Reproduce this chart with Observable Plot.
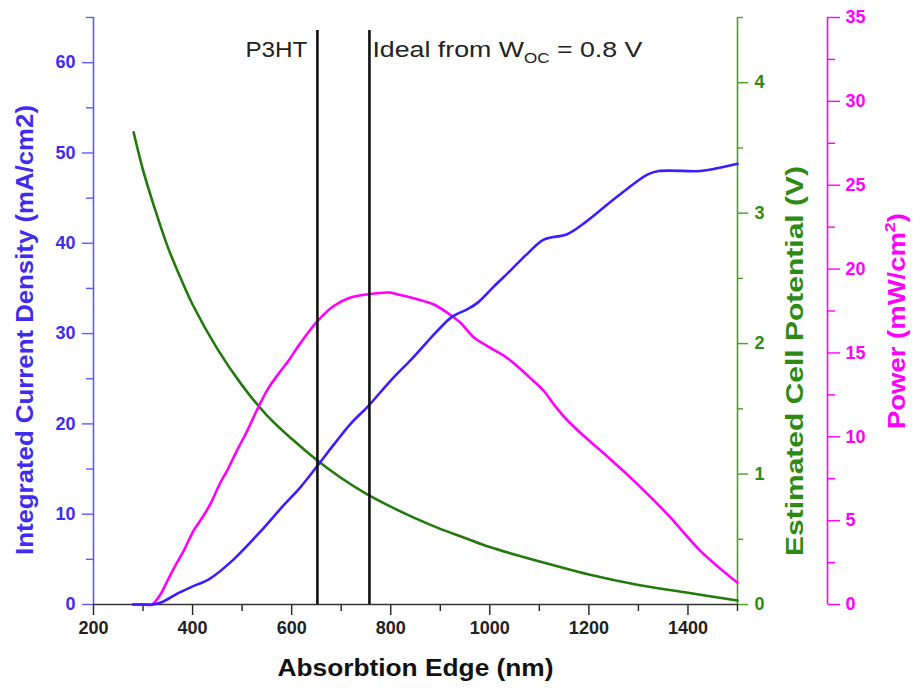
<!DOCTYPE html>
<html><head><meta charset="utf-8">
<script src="https://cdn.jsdelivr.net/npm/d3@7"></script>
<script src="https://cdn.jsdelivr.net/npm/@observablehq/plot@0.6"></script>
<style>body{margin:0;background:#fff}#chart{position:absolute;left:0;top:0}</style>
</head><body><div id="chart"></div>
<script>
// Integrated current density (mA/cm2) vs absorption edge (nm)
const currentNm  = [280,300,320,340,369,396,436,483,534,584,618,654,685,719,755,800,846,894,925,955,975,1008,1042,1075,1109,1156,1190,1258,1318,1341,1425,1459,1500];
const currentVal = [0,0,0,0.3,1.2,1.9,2.9,5.0,7.9,11.0,13.0,15.5,17.7,20.0,22.0,24.8,27.4,30.3,31.9,32.7,33.4,35.2,37.0,38.8,40.4,41.0,42.2,45.2,47.6,48.0,48.0,48.3,48.8];
// Estimated cell potential (V)
const voltNm  = [281,300,325,350,375,400,450,500,550,600,650,700,750,800,850,900,950,1000,1100,1200,1300,1400,1500];
const voltVal = [3.62,3.33,3.02,2.74,2.51,2.30,1.96,1.68,1.45,1.27,1.11,0.97,0.85,0.75,0.66,0.58,0.51,0.44,0.33,0.23,0.15,0.09,0.03];
// Power (mW/cm2)
const powerNm  = [280,300,318,335,349,365,382,402,420,436,455,470,490,511,530,551,572,595,618,652,685,719,755,796,813,854,886,914,941,965,995,1035,1082,1110,1130,1156,1203,1223,1290,1358,1425,1500];
const powerVal = [0,0,0,0.6,1.4,2.3,3.2,4.4,5.2,6.0,7.2,8.0,9.2,10.4,11.6,12.8,13.7,14.6,15.6,16.9,17.8,18.3,18.5,18.6,18.5,18.2,17.9,17.4,16.8,16.0,15.4,14.7,13.5,12.7,11.9,11.0,9.7,9.2,7.4,5.4,3.2,1.3];
// Marker lines
const markerNm = [652, 757];
const markerLabels = ["P3HT", "Ideal from W"];
// Ticks
const xMajor = [200,400,600,800,1000,1200,1400];
const xMinor = [300,500,700,900,1100,1300,1500];
const leftMajor = [0,10,20,30,40,50,60];
const leftMinor = [5,15,25,35,45,55,65];
const voltMajor = [0,1,2,3,4];
const voltMinor = [0.5,1.5,2.5,3.5,4.5];
const powerMajor = [0,5,10,15,20,25,30,35];
const powerMinor = [2.5,7.5,12.5,17.5,22.5,27.5,32.5];
const Y_MAX = 65, V_MAX = 4.5, P_MAX = 35;

const vToY = v => v * Y_MAX / V_MAX;
const pToY = p => p * Y_MAX / P_MAX;
const current = currentNm.map((x, i) => ({x, y: currentVal[i]}));
const volt = voltNm.map((x, i) => ({x, y: vToY(voltVal[i])}));
const power = powerNm.map((x, i) => ({x, y: pToY(powerVal[i])}));

const BLUE = "#3a1eff", BLUE_AX = "#5b5bff", BLUE_TX = "#3f2cf0";
const GREEN = "#237a0c", GREEN_AX = "#45a024", GREEN_TX = "#2f8a14";
const MAG = "#ff00ff";
const FONT = "'Liberation Sans', Arial, sans-serif";

const chart = Plot.plot({
  width: 913, height: 692,
  marginLeft: 93, marginRight: 176, marginTop: 17, marginBottom: 88,
  x: {domain: [200, 1500]},
  y: {domain: [0, Y_MAX]},
  style: {fontFamily: FONT, background: "white", overflow: "visible"},
  marks: [
    // axis lines
    Plot.ruleX([200], {y1: 0, y2: Y_MAX, stroke: BLUE_AX, strokeWidth: 1.6}),
    Plot.ruleX([1500], {y1: 0, y2: Y_MAX, stroke: GREEN_AX, strokeWidth: 1.6}),
    Plot.ruleX([1500], {y1: 0, y2: Y_MAX, stroke: MAG, strokeWidth: 1.6, dx: 90}),
    // x axis
    Plot.axisX(xMajor, {tickSize: 11, tickPadding: 6, fontSize: 18, fontWeight: "bold", color: "#222", strokeWidth: 1.4, label: null, tickFormat: d => String(d)}),
    Plot.axisX(xMinor, {tickSize: 7, fill: "none", color: "#222", strokeWidth: 1.4, label: null}),
    // left axis
    Plot.axisY(leftMajor, {anchor: "left", tickSize: 11, tickPadding: 7, fontSize: 18, fontWeight: "bold", stroke: BLUE_AX, fill: BLUE_TX, strokeWidth: 1.4, label: null, tickFormat: d => String(d)}),
    Plot.axisY(leftMinor, {anchor: "left", tickSize: 7, fill: "none", stroke: BLUE_AX, strokeWidth: 1.4, label: null}),
    // green axis
    Plot.axisY(voltMajor.map(vToY), {anchor: "right", tickSize: 10, tickPadding: 7, fontSize: 18, fontWeight: "bold", stroke: GREEN_AX, fill: GREEN_TX, strokeWidth: 1.4, label: null, tickFormat: d => String(Math.round(d * V_MAX / Y_MAX * 10) / 10)}),
    Plot.axisY(voltMinor.map(vToY), {anchor: "right", tickSize: 5, fill: "none", stroke: GREEN_AX, strokeWidth: 1.4, label: null}),
    // magenta axis
    Plot.axisY(powerMajor.map(pToY), {anchor: "right", dx: 90, tickSize: 12, tickPadding: 6, fontSize: 18, fontWeight: "bold", stroke: MAG, fill: MAG, strokeWidth: 1.4, label: null, tickFormat: d => String(Math.round(d * P_MAX / Y_MAX * 10) / 10)}),
    Plot.axisY(powerMinor.map(pToY), {anchor: "right", dx: 90, tickSize: 7, fill: "none", stroke: MAG, strokeWidth: 1.4, label: null}),
    // bottom axis line
    Plot.ruleY([0], {x1: 200, x2: 1500, stroke: "#333", strokeWidth: 1.6}),
    // curves
    Plot.line(volt, {x: "x", y: "y", stroke: GREEN, strokeWidth: 2.6, curve: "catmull-rom"}),
    Plot.line(power, {x: "x", y: "y", stroke: MAG, strokeWidth: 2.6, curve: "catmull-rom"}),
    Plot.line(current, {x: "x", y: "y", stroke: BLUE, strokeWidth: 2.6, curve: "catmull-rom"}),
    // marker lines
    Plot.ruleX(markerNm, {stroke: "#111", strokeWidth: 2.6, insetTop: 13}),
    Plot.text([markerLabels[0]], {x: markerNm[0], frameAnchor: "top", lineAnchor: "middle", dy: 32, dx: -10, textAnchor: "end", fontSize: 22, fill: "#222"}),
    Plot.text([markerLabels[1]], {x: markerNm[1], frameAnchor: "top", lineAnchor: "middle", dy: 32, dx: 3, textAnchor: "start", fontSize: 22, fill: "#222"}),
    // axis titles
    Plot.text(["Absorbtion Edge (nm)"], {frameAnchor: "bottom", lineAnchor: "middle", textAnchor: "middle", dy: 64, fontSize: 23, fontWeight: "bold", fill: "#111"}),
    Plot.text(["Integrated Current Density (mA/cm2)"], {frameAnchor: "left", lineAnchor: "middle", textAnchor: "middle", rotate: -90, dx: -68, dy: 19, fontSize: 23, fontWeight: "bold", fill: BLUE_TX}),
    Plot.text(["Estimated Cell Potential (V)"], {frameAnchor: "right", lineAnchor: "middle", textAnchor: "middle", rotate: -90, dx: 58, dy: 50, fontSize: 23, fontWeight: "bold", fill: GREEN_TX}),
    Plot.text(["Power (mW/cm2)"], {frameAnchor: "right", lineAnchor: "middle", textAnchor: "middle", rotate: -90, dx: 160, dy: 10, fontSize: 23, fontWeight: "bold", fill: MAG})
  ]
});

// stretched lengths matching the reference's wide lettering
const stretch = {
  "Absorbtion Edge (nm)": 276,
  "Integrated Current Density (mA/cm2)": 450,
  "Estimated Cell Potential (V)": 390,
  "Power (mW/cm2)": 216,
  "P3HT": 62,
  "Ideal from W": 270
};
d3.select(chart).selectAll("text").each(function() {
  const t = this.textContent;
  const s = d3.select(this);
  if (t === "Ideal from W") {
    s.text("Ideal from W");
    s.append("tspan").attr("font-size", 14).attr("dy", 6).text("OC");
    s.append("tspan").attr("dy", -6).text(" = 0.8 V");
  } else if (t === "Power (mW/cm2)") {
    s.text("Power (mW/cm");
    s.append("tspan").attr("font-size", 15).attr("dy", -10).text("2");
    s.append("tspan").attr("dy", 10).text(")");
  }
  if (stretch[t]) s.attr("textLength", stretch[t]).attr("lengthAdjust", "spacingAndGlyphs");
});
document.getElementById("chart").append(chart);
</script></body></html>
